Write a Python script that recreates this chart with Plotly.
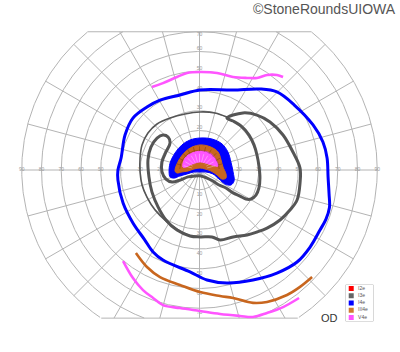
import numpy as np
import plotly.graph_objects as go

# ---------------- data (visual-field degrees: x = horizontal, y = vertical) ----------------
ring_radii = [10, 20, 30, 40, 50, 60, 70, 80, 90]
meridians = list(range(0, 360, 15))
horiz_labels = [10, 20, 30, 40, 50, 60, 70, 80, 90]
vert_labels = [10, 20, 30, 40, 50, 60, 70]
top_limit = 70
bottom_limit = -75

# I4e (blue) isopter, closed
i4e_x = [0.3, 17, 30.6, 39.2, 48, 57.5, 62.5, 64.6, 65.1, 65.6, 65.8, 64.0, 61, 56, 49.4, 39.2, 27.1,
         13.9, 3.8, -4.8, -18.5, -23.5, -28, -33.7, -38.7, -41.3, -41.3, -39.7, -37.7, -33.7, -26.6,
         -20, -9.9]
i4e_y = [40.5, 40.5, 41, 39.5, 32.9, 22.8, 14.2, 6.1, -3.5, -12, -19, -25, -30.4, -39, -46.6, -52.2,
         -55.7, -57.2, -55.7, -51.6, -45.6, -41.5, -35, -26.8, -16.7, -5.1, 0, 6.1, 17.7, 26.3, 31.9,
         35.4, 38]

# I3e (gray) isopter, closed thick loop
i3e_x = [13.9, 22.0, 29.1, 35.7, 42.3, 47.3, 50.9, 50.9, 49.4, 45.8, 40.8, 34.2, 29.1, 24.1, 17.0,
         10.4, 6.3, 0.3, -4.8, -11.4, -17.0, -21.0, -24.1, -25.6, -26.1, -24.6, -21.5, -18.5, -15.9,
         -14.9, -17.0, -19.0, -19.0, -17.0, -13.9, -9.9, -5.8, -2.3, 0.8, 3.8, 6.8, 9.9, 13.4, 17.0,
         20.5, 23.5, 26.1, 28.6, 30.1, 30.6, 30.1, 29.1, 27.6, 25.1, 21.0, 17.0]
i3e_y = [26.3, 28.9, 27.8, 24.3, 17.7, 9.1, 1.0, -6.6, -15.2, -20.3, -25.3, -29.4, -31.4, -32.9, -33.9,
         -35.4, -33.9, -33.9, -33.4, -30.4, -25.3, -18.7, -11.1, -3.5, 5.1, 11.6, 16.2, 17.7, 16.7,
         13.7, 9.1, 4.1, -1.0, -4.6, -6.1, -5.1, -3.5, -3.0, -3.0, -4.1, -5.6, -7.6, -9.1, -11.6,
         -13.2, -14.7, -14.7, -12.7, -9.1, -4.1, 2.0, 7.6, 12.7, 17.7, 22.3, 24.8]

# I3e (gray) thin outer arc
i3e_arc_x = [13.9, 7.8, 0.3, -7.3, -14.9, -21.5, -26.1, -29.1, -30.1, -30.1, -29.1, -26.6, -22.5,
             -16.5, -9.9, -4.8]
i3e_arc_y = [26.8, 28.9, 29.4, 28.4, 26.3, 23.3, 18.7, 12.7, 6.1, -1.0, -7.6, -13.7, -20.3, -26.3,
             -30.9, -33.4]

# III4e (orange) isopter, inferior segment
iii4e_x = [-32.2, -26.6, -20, -9.9, 0.3, 10.4, 17, 27.1, 34.2, 44.3, 50.9, 57]
iii4e_y = [-42, -49.1, -54.2, -58.2, -61.8, -63.8, -64.8, -67.3, -66.8, -63.3, -59.2, -54.2]

# V4e (magenta) isopter, superior and inferior segments
v4e_top_x = [-24.1, -18.5, -11.4, -6.3, 0.3, 8.9, 17, 24.1, 29.1, 34.2, 39.2, 42.3]
v4e_top_y = [42, 44, 47.1, 49.1, 49.6, 49.1, 47.1, 46.6, 46.6, 48.1, 48.1, 47.1]
v4e_bot_x = [-38.7, -33.7, -28.6, -23.5, -18.5, -9.9, 0.3, 10.4, 20.5, 27.1, 34.2, 42.3, 50.4]
v4e_bot_y = [-46.1, -54.7, -60.8, -64.8, -68.4, -69.9, -71.4, -72.9, -73.9, -74.4, -72.4, -69.4,
             -64.8]

# central islands (filled)
blue_blob_x = [-15.4, -14.9, -12.4, -8.9, -4.8, 0.3, 6.3, 11.4, 14.4, 15.9, 17, 17.5, 15.9, 12.9, 9.9,
               6.8, 3.3, 0.3, -2.8, -6.3, -9.9, -12.9, -14.9]
blue_blob_y = [-1, 3.5, 8.6, 12.7, 15.2, 16.2, 15.7, 13.2, 9.1, 4.1, -1, -5.6, -7.6, -7.1, -4.6, -2,
               -1, -1, -1, -2, -3, -4.1, -3.5]
orange_blob_x = [-12.4, -10.4, -7.3, -3.8, 0.8, 5.8, 9.4, 10.9, 11.9, 13.4, 13.4, 11.4, 8.9, 5.8, 2.8,
                 0.3, -2.8, -5.8, -8.9, -11.4]
orange_blob_y = [-0.5, 5.1, 9.1, 11.6, 12.7, 11.6, 9.1, 5.1, 1.5, -2, -4.1, -4.6, -2.5, -0.5, 0.5, 1,
                 0.5, -0.5, -1, -1.5]
magenta_blob_x = [-8.4, -7.3, -3.8, 0.8, 5.3, 7.8, 9.4, 6.3, 3.3, 0.3, -2.3, -4.8, -6.8]
magenta_blob_y = [1.5, 6.1, 8.6, 9.6, 8.6, 6.1, 2, 2.5, 3.5, 4.1, 3.5, 2.5, 1.5]

legend_names = ["I2e", "I3e", "I4e", "III4e", "V4e"]
legend_colors = ["#ff0000", "#666666", "#0000ff", "#d07a30", "#ff55ff"]

# ---------------- styling ----------------
GRID = "#b4b4b4"
GRAY = "#555555"
BLUE = "#0000ff"
ORANGE = "#c8661e"
MAGENTA = "#ff55ff"
PX_PER_DEG = 1.975
CX, CY = 199.5, 170.0
W, H = 400, 352


def closed(xs, ys):
    return list(xs) + [xs[0]], list(ys) + [ys[0]]


fig = go.Figure()

# grid circles (clipped to chart limits)
gx, gy = [], []
th = np.linspace(0, 2 * np.pi, 721)
for r in ring_radii:
    xs = r * np.cos(th)
    ys = r * np.sin(th)
    for x, y in zip(xs, ys):
        if y > top_limit + 1e-9 or y < bottom_limit - 1e-9:
            gx.append(None); gy.append(None)
        else:
            gx.append(float(x)); gy.append(float(y))
    gx.append(None); gy.append(None)
# meridians
rmax = max(ring_radii)
for a in meridians:
    t = np.deg2rad(a)
    s = np.sin(t)
    rend = rmax
    if s > 1e-9:
        rend = min(rmax, top_limit / s)
    elif s < -1e-9:
        rend = min(rmax, -bottom_limit / -s)
    gx += [0, rend * np.cos(t), None]
    gy += [0, rend * np.sin(t), None]
# top / bottom chords
for lim in (top_limit, bottom_limit):
    half = np.sqrt(rmax ** 2 - lim ** 2)
    gx += [-half, half, None]
    gy += [lim, lim, None]
fig.add_trace(go.Scatter(x=gx, y=gy, mode="lines", line=dict(color=GRID, width=1),
                         hoverinfo="skip", showlegend=False))

# axis labels
lx, ly, lt = [], [], []
for r in horiz_labels:
    lx += [-r, r]; ly += [0, 0]; lt += [str(r), str(r)]
for r in vert_labels:
    lx.append(0); ly.append(min(r + 1.3, top_limit - 1.6)); lt.append(str(r))
    lx.append(0); ly.append(-(r + 2.5)); lt.append(str(r))
fig.add_trace(go.Scatter(x=lx, y=ly, text=lt, mode="text",
                         textfont=dict(size=5, color="#9a9a9a", family="Liberation Sans"),
                         hoverinfo="skip", showlegend=False))

# thin I3e arc
fig.add_trace(go.Scatter(x=i3e_arc_x, y=i3e_arc_y, mode="lines",
                         line=dict(color=GRAY, width=1.6, shape="spline"),
                         hoverinfo="skip", showlegend=False))

# central islands
for bx, by, col in [(blue_blob_x, blue_blob_y, BLUE),
                    (orange_blob_x, orange_blob_y, ORANGE),
                    (magenta_blob_x, magenta_blob_y, MAGENTA)]:
    cx_, cy_ = closed(bx, by)
    fig.add_trace(go.Scatter(x=cx_, y=cy_, mode="lines", fill="toself", fillcolor=col,
                             line=dict(color=col, width=1, shape="spline"),
                             hoverinfo="skip", showlegend=False))

# grid texture visible through the central islands
ox1, oy1, ox2, oy2 = [], [], [], []
for a in meridians:
    if 0 < a < 180:
        t = np.deg2rad(a)
        ox1 += [4 * np.cos(t), 8.3 * np.cos(t), None]
        oy1 += [3 + 4 * np.sin(t) - 3 * np.sin(t) ** 0, 3 + 8.3 * np.sin(t) - 3 * np.sin(t) ** 0, None]
        ox2 += [9.6 * np.cos(t), 12 * np.cos(t), None]
        oy2 += [9.6 * np.sin(t), 12 * np.sin(t), None]
ta = np.linspace(0.05, np.pi - 0.05, 60)
ox2 += list(10 * np.cos(ta)) + [None]
oy2 += list(10 * np.sin(ta)) + [None]
fig.add_trace(go.Scatter(x=ox1, y=oy1, mode="lines", line=dict(color="rgba(255,255,255,0.45)", width=0.8),
                         hoverinfo="skip", showlegend=False))
fig.add_trace(go.Scatter(x=ox2, y=oy2, mode="lines", line=dict(color="rgba(90,40,0,0.45)", width=0.8),
                         hoverinfo="skip", showlegend=False))

# isopters
cx_, cy_ = closed(i3e_x, i3e_y)
fig.add_trace(go.Scatter(x=cx_, y=cy_, mode="lines", line=dict(color=GRAY, width=3, shape="spline"),
                         hoverinfo="skip", showlegend=False))
cx_, cy_ = closed(i4e_x, i4e_y)
fig.add_trace(go.Scatter(x=cx_, y=cy_, mode="lines", line=dict(color=BLUE, width=3, shape="spline"),
                         hoverinfo="skip", showlegend=False))
fig.add_trace(go.Scatter(x=iii4e_x, y=iii4e_y, mode="lines",
                         line=dict(color=ORANGE, width=2.6, shape="spline"),
                         hoverinfo="skip", showlegend=False))
for vx, vy in [(v4e_top_x, v4e_top_y), (v4e_bot_x, v4e_bot_y)]:
    fig.add_trace(go.Scatter(x=vx, y=vy, mode="lines",
                             line=dict(color=MAGENTA, width=2.6, shape="spline"),
                             hoverinfo="skip", showlegend=False))

# custom legend on its own small axes
n = len(legend_names)
fig.add_trace(go.Scatter(x=[0.2] * n, y=[n - 0.5 - i for i in range(n)], mode="markers+text",
                         marker=dict(symbol="square", size=5, color=legend_colors, line=dict(width=0)),
                         text=["  " + s for s in legend_names], textposition="middle right",
                         textfont=dict(size=5, color="#555555", family="Liberation Sans"),
                         xaxis="x2", yaxis="y2", hoverinfo="skip", showlegend=False))

lx0, lx1, ly0, ly1 = 345.7, 373.3, 285.0, 321.0
fig.add_shape(type="rect", xref="paper", yref="paper",
              x0=lx0 / W, x1=lx1 / W, y0=1 - ly1 / H, y1=1 - ly0 / H,
              line=dict(color="#bbbbbb", width=1), fillcolor="white", layer="below")

fig.add_annotation(text="©StoneRoundsUIOWA", xref="paper", yref="paper", x=398 / W, y=1 - 8.5 / H,
                   xanchor="right", yanchor="middle", showarrow=False,
                   font=dict(size=14, color="#555555", family="Liberation Sans"))
fig.add_annotation(text="OD", xref="paper", yref="paper", x=329 / W, y=1 - 317.5 / H,
                   xanchor="center", yanchor="middle", showarrow=False,
                   font=dict(size=11, color="#333333", family="Liberation Sans"))

fig.update_layout(
    width=W, height=H, margin=dict(l=0, r=0, t=0, b=0),
    paper_bgcolor="white", plot_bgcolor="white", showlegend=False,
    xaxis=dict(range=[-CX / PX_PER_DEG, (W - CX) / PX_PER_DEG], visible=False, fixedrange=True),
    yaxis=dict(range=[-(H - CY) / PX_PER_DEG, CY / PX_PER_DEG], visible=False, fixedrange=True),
    xaxis2=dict(domain=[lx0 / W, lx1 / W], range=[0, 1], visible=False, anchor="y2"),
    yaxis2=dict(domain=[1 - ly1 / H, 1 - ly0 / H], range=[0, n], visible=False, anchor="x2"),
)

fig.write_html("out.html")
